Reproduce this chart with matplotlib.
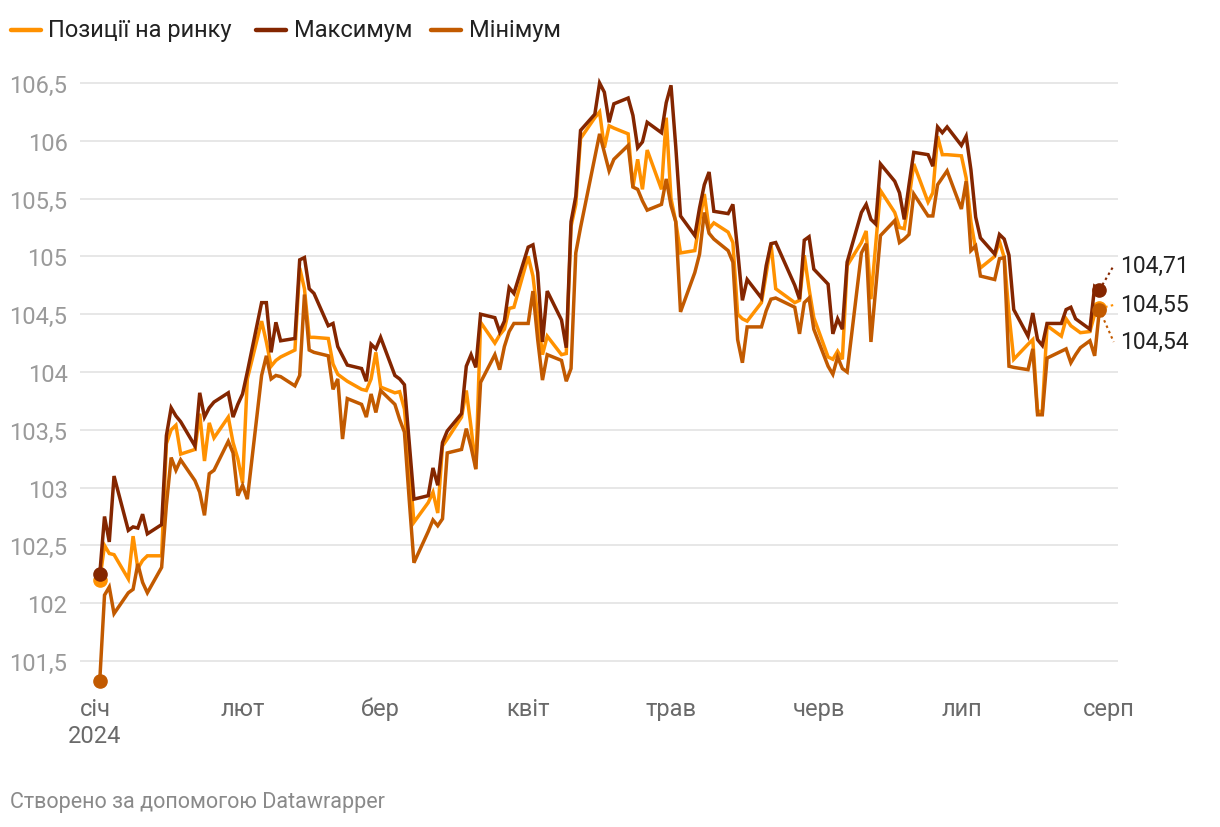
import matplotlib
matplotlib.use("Agg")
import matplotlib.pyplot as plt
import matplotlib.dates as mdates
from matplotlib.lines import Line2D
import datetime as dt

plt.rcParams['font.family'] = ['Roboto', 'DejaVu Sans']

# ---------------- data ----------------
dates = [
    "2024-01-02", "2024-01-03", "2024-01-04", "2024-01-05", "2024-01-08", "2024-01-09",
    "2024-01-10", "2024-01-11", "2024-01-12", "2024-01-15", "2024-01-16", "2024-01-17",
    "2024-01-18", "2024-01-19", "2024-01-22", "2024-01-23", "2024-01-24", "2024-01-25",
    "2024-01-26", "2024-01-29", "2024-01-30", "2024-01-31", "2024-02-01", "2024-02-02",
    "2024-02-05", "2024-02-06", "2024-02-07", "2024-02-08", "2024-02-09", "2024-02-12",
    "2024-02-13", "2024-02-14", "2024-02-15", "2024-02-16", "2024-02-19", "2024-02-20",
    "2024-02-21", "2024-02-22", "2024-02-23", "2024-02-26", "2024-02-27", "2024-02-28",
    "2024-02-29", "2024-03-01", "2024-03-04", "2024-03-05", "2024-03-06", "2024-03-07",
    "2024-03-08", "2024-03-11", "2024-03-12", "2024-03-13", "2024-03-14", "2024-03-15",
    "2024-03-18", "2024-03-19", "2024-03-20", "2024-03-21", "2024-03-22", "2024-03-25",
    "2024-03-26", "2024-03-27", "2024-03-28", "2024-03-29", "2024-04-01", "2024-04-02",
    "2024-04-03", "2024-04-04", "2024-04-05", "2024-04-08", "2024-04-09", "2024-04-10",
    "2024-04-11", "2024-04-12", "2024-04-15", "2024-04-16", "2024-04-17", "2024-04-18",
    "2024-04-19", "2024-04-22", "2024-04-23", "2024-04-24", "2024-04-25", "2024-04-26",
    "2024-04-29", "2024-04-30", "2024-05-01", "2024-05-02", "2024-05-03", "2024-05-06",
    "2024-05-07", "2024-05-08", "2024-05-09", "2024-05-10", "2024-05-13", "2024-05-14",
    "2024-05-15", "2024-05-16", "2024-05-17", "2024-05-20", "2024-05-21", "2024-05-22",
    "2024-05-23", "2024-05-27", "2024-05-28", "2024-05-29", "2024-05-30", "2024-05-31",
    "2024-06-03", "2024-06-04", "2024-06-05", "2024-06-06", "2024-06-07", "2024-06-10",
    "2024-06-11", "2024-06-12", "2024-06-13", "2024-06-14", "2024-06-17", "2024-06-18",
    "2024-06-19", "2024-06-20", "2024-06-21", "2024-06-24", "2024-06-25", "2024-06-26",
    "2024-06-27", "2024-06-28", "2024-07-01", "2024-07-02", "2024-07-03", "2024-07-04",
    "2024-07-05", "2024-07-08", "2024-07-09", "2024-07-10", "2024-07-11", "2024-07-12",
    "2024-07-15", "2024-07-16", "2024-07-17", "2024-07-18", "2024-07-19", "2024-07-22",
    "2024-07-23", "2024-07-24", "2024-07-25", "2024-07-26", "2024-07-28", "2024-07-29",
    "2024-07-30",
]

maximum = [
    102.25, 102.75, 102.53, 103.10, 102.63, 102.66, 102.65, 102.77, 102.60, 102.68,
    103.45, 103.69, 103.62, 103.57, 103.36, 103.82, 103.61, 103.69, 103.74, 103.82,
    103.61, 103.72, 103.81, 104.00, 104.60, 104.60, 104.17, 104.43, 104.27, 104.29,
    104.97, 104.99, 104.72, 104.68, 104.40, 104.42, 104.22, 104.14, 104.06, 104.03,
    103.92, 104.24, 104.20, 104.30, 103.97, 103.94, 103.89, 103.40, 102.90, 102.93,
    103.17, 103.02, 103.39, 103.49, 103.64, 104.05, 104.15, 104.04, 104.50, 104.47,
    104.35, 104.44, 104.73, 104.68, 105.08, 105.10, 104.86, 104.26, 104.70, 104.45,
    104.21, 105.30, 105.52, 106.09, 106.23, 106.50, 106.42, 106.16, 106.32, 106.37,
    106.22, 105.94, 105.99, 106.16, 106.07, 106.33, 106.48, 105.95, 105.35, 105.18,
    105.42, 105.62, 105.73, 105.39, 105.37, 105.45, 105.05, 104.62, 104.80, 104.64,
    104.92, 105.11, 105.12, 104.75, 104.63, 105.14, 105.17, 104.89, 104.76, 104.33,
    104.46, 104.37, 104.95, 105.38, 105.45, 105.32, 105.28, 105.80, 105.65, 105.55,
    105.32, 105.62, 105.90, 105.88, 105.78, 106.12, 106.07, 106.12, 105.96, 106.04,
    105.75, 105.34, 105.16, 105.02, 105.19, 105.15, 105.01, 104.54, 104.31, 104.51,
    104.28, 104.23, 104.42, 104.42, 104.54, 104.56, 104.46, 104.43, 104.37, 104.74,
    104.71,
]

market = [
    102.20, 102.50, 102.43, 102.42, 102.21, 102.58, 102.30, 102.37, 102.41, 102.41,
    103.38, 103.50, 103.54, 103.29, 103.33, 103.64, 103.23, 103.56, 103.43, 103.61,
    103.39, 103.25, 103.04, 103.94, 104.44, 104.26, 104.05, 104.10, 104.13, 104.19,
    104.90, 104.72, 104.30, 104.30, 104.29, 104.07, 103.98, 103.95, 103.92, 103.85,
    103.84, 103.94, 104.17, 103.87, 103.82, 103.83, 103.68, 103.20, 102.70, 102.87,
    102.96, 102.78, 103.36, 103.42, 103.61, 103.84, 103.52, 103.16, 104.43, 104.25,
    104.32, 104.37, 104.55, 104.56, 105.00, 104.83, 104.48, 104.15, 104.31, 104.15,
    104.16, 105.26, 105.45, 106.02, 106.20, 106.25, 105.94, 106.13, 106.11, 106.06,
    105.60, 105.84, 105.58, 105.92, 105.58, 106.20, 105.50, 105.30, 105.03, 105.05,
    105.30, 105.54, 105.24, 105.29, 105.21, 105.12, 104.50, 104.46, 104.44, 104.60,
    104.85, 105.11, 104.72, 104.60, 104.62, 105.01, 104.72, 104.47, 104.13, 104.11,
    104.18, 104.11, 104.92, 105.12, 105.22, 104.63, 105.10, 105.57, 105.38, 105.25,
    105.24, 105.50, 105.80, 105.47, 105.55, 106.04, 105.88, 105.88, 105.87, 105.68,
    105.30, 105.06, 104.90, 105.00, 105.13, 104.99, 104.50, 104.11, 104.24, 104.28,
    103.66, 103.66, 104.40, 104.31, 104.46, 104.40, 104.37, 104.34, 104.35, 104.50,
    104.55,
]

minimum = [
    101.33, 102.07, 102.14, 101.91, 102.09, 102.12, 102.34, 102.18, 102.09, 102.31,
    102.85, 103.26, 103.15, 103.24, 103.06, 102.96, 102.76, 103.12, 103.15, 103.40,
    103.30, 102.93, 103.02, 102.90, 103.97, 104.14, 103.94, 103.97, 103.96, 103.88,
    103.97, 104.67, 104.19, 104.17, 104.14, 103.85, 103.94, 103.42, 103.77, 103.72,
    103.61, 103.81, 103.65, 103.84, 103.72, 103.59, 103.48, 102.90, 102.35, 102.62,
    102.72, 102.67, 102.73, 103.30, 103.33, 103.51, 103.35, 103.16, 103.91, 104.15,
    104.02, 104.22, 104.35, 104.42, 104.42, 104.70, 104.28, 103.93, 104.15, 104.10,
    103.92, 104.03, 105.03, 105.25, 105.86, 106.06, 105.90, 105.74, 105.84, 105.96,
    105.60, 105.58, 105.48, 105.40, 105.45, 105.67, 105.44, 105.30, 104.52, 104.86,
    105.02, 105.38, 105.20, 105.15, 105.05, 104.95, 104.28, 104.08, 104.39, 104.39,
    104.53, 104.63, 104.64, 104.56, 104.33, 104.60, 104.64, 104.37, 104.05, 103.98,
    104.13, 104.03, 104.00, 105.03, 105.11, 104.26, 104.72, 105.18, 105.31, 105.12,
    105.15, 105.19, 105.54, 105.35, 105.35, 105.62, 105.68, 105.74, 105.41, 105.65,
    105.05, 105.09, 104.83, 104.80, 104.98, 104.99, 104.05, 104.04, 104.02, 104.20,
    103.63, 103.63, 104.12, 104.18, 104.20, 104.08, 104.15, 104.21, 104.27, 104.14,
    104.54,
]

series_names = ["Позиції на ринку", "Максимум", "Мінімум"]
month_ticks = ["2024-01-01", "2024-02-01", "2024-03-01", "2024-04-01",
               "2024-05-01", "2024-06-01", "2024-07-01", "2024-08-01"]
month_labels = ["січ\n2024", "лют", "бер", "квіт", "трав", "черв", "лип", "серп"]
y_ticks = [101.5, 102.0, 102.5, 103.0, 103.5, 104.0, 104.5, 105.0, 105.5, 106.0, 106.5]
footer = "Створено за допомогою Datawrapper"

# ---------------- style ----------------
C_MARKET = "#ff9100"
C_MAX = "#842600"
C_MIN = "#c25a00"
GRID = "#e3e3e3"

to_dt = lambda s: dt.datetime.strptime(s, "%Y-%m-%d")
x = [to_dt(d) for d in dates]

fig = plt.figure(figsize=(12.2, 8.28), dpi=100)
ax = fig.add_axes([0.06557, 0.16558, 0.85082, 0.74693])

lw = 2.5
series = [(market, C_MARKET), (maximum, C_MAX), (minimum, C_MIN)]
for i, (vals, col) in enumerate(series):
    ax.plot(x, vals, color=col, lw=lw, solid_joinstyle="miter", zorder=3 + i)
    ax.plot([x[0], x[-1]], [vals[0], vals[-1]], "o", color=col, ms=9.5, zorder=3 + i,
            clip_on=False)

# end labels with dotted connectors
label_offsets = [0.03, 0.21, -0.28]   # market, max, min (label position relative to value)
last = x[-1]
conn_end = last + dt.timedelta(days=3.0)
text_x = last + dt.timedelta(days=4.3)
for (vals, col), off in zip(series, label_offsets):
    v = vals[-1]
    ax.plot([last, conn_end], [v, v + off], ls=(0, (1.2, 1.6)), color=col, lw=1.5,
            zorder=2, clip_on=False)
    ax.text(text_x, v + off, f"{v:.2f}".replace(".", ","), fontsize=16.5,
            color="#222222", va="center", ha="left", clip_on=False)

# axes
xmin = to_dt("2024-01-01") - dt.timedelta(days=3.15)
xmax = to_dt("2024-01-01") + dt.timedelta(days=214.9)
ax.set_xlim(xmin, xmax)
ax.set_ylim(101.25, 106.6)

ax.set_yticks(y_ticks)
ax.set_yticklabels([(f"{t:.1f}".rstrip("0").rstrip(".")).replace(".", ",") for t in y_ticks])
ax.set_xticks([to_dt(m) for m in month_ticks])
ax.set_xticklabels(month_labels)

ax.grid(axis="y", color=GRID, lw=1.2, zorder=0)
ax.grid(axis="x", visible=False)
for s in ax.spines.values():
    s.set_visible(False)
ax.tick_params(axis="y", length=0, pad=9, labelsize=17, labelcolor="#9a9a9a")
ax.tick_params(axis="x", length=0, pad=5, labelsize=17, labelcolor="#6a6a6a")
for lab in ax.get_xticklabels():
    lab.set_linespacing(1.25)

# legend
leg_y = 1 - 31 / 828
leg_items = [(series_names[0], C_MARKET, 11, 48),
             (series_names[1], C_MAX, 256, 294),
             (series_names[2], C_MIN, 431, 469)]
for name, col, lx, tx in leg_items:
    fig.add_artist(Line2D([lx / 1220, (lx + 30) / 1220], [leg_y, leg_y], color=col, lw=3.2,
                          solid_capstyle="round"))
    fig.text(tx / 1220, leg_y, name, fontsize=17, color="#222222", va="center", ha="left")

fig.text(10 / 1220, 1 - 803 / 828, footer, fontsize=15.5, color="#8a8a8a", va="center",
         ha="left")

fig.savefig("out.png", dpi=100, facecolor="white")
